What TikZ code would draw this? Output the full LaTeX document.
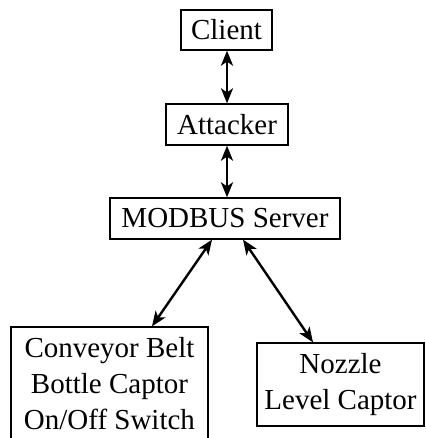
\documentclass[tikz,border=0pt]{standalone}
\usepackage{fontspec}
\setmainfont{Liberation Serif}
\usetikzlibrary{arrows.meta,calc}
\tikzset{
  box/.style={draw,line width=1.3pt,inner sep=0pt,align=center,
    font=\fontsize{29}{36}\selectfont},
  link/.style={line width=2.4pt,{Stealth[length=15pt,width=12pt,inset=4pt]}-{Stealth[length=15pt,width=12pt,inset=4pt]}}
}
\begin{document}
\begin{tikzpicture}[x=1pt,y=-1pt]
\useasboundingbox (0,0) rectangle (425,438);
\fill[white] (0,0) rectangle (425,438);
\node[box,minimum width=91pt,minimum height=40pt] (client) at (226.5,30) {Client};
\node[box,minimum width=122pt,minimum height=41pt] (attacker) at (227,124.5) {Attacker};
\node[box,minimum width=230pt,minimum height=41pt] (modbus) at (225,218.5) {MODBUS Server};
\node[box,minimum width=197pt,minimum height=114pt] (conv) at (109.5,384) {Conveyor Belt\\Bottle Captor\\On/Off Switch};
\node[box,minimum width=167pt,minimum height=83pt] (nozzle) at (340.5,384.5) {Nozzle\\Level Captor};
\draw[link] (client.south -| attacker.north) -- (attacker.north);
\draw[link] (attacker.south) -- (attacker.south |- modbus.north);
\draw[link] ($(modbus.south)+(-13,0)$) -- ($(conv.north)+(42.5,0)$);
\draw[link] ($(modbus.south)+(18,0)$) -- ($(nozzle.north)+(-27.5,0)$);
\end{tikzpicture}
\end{document}
